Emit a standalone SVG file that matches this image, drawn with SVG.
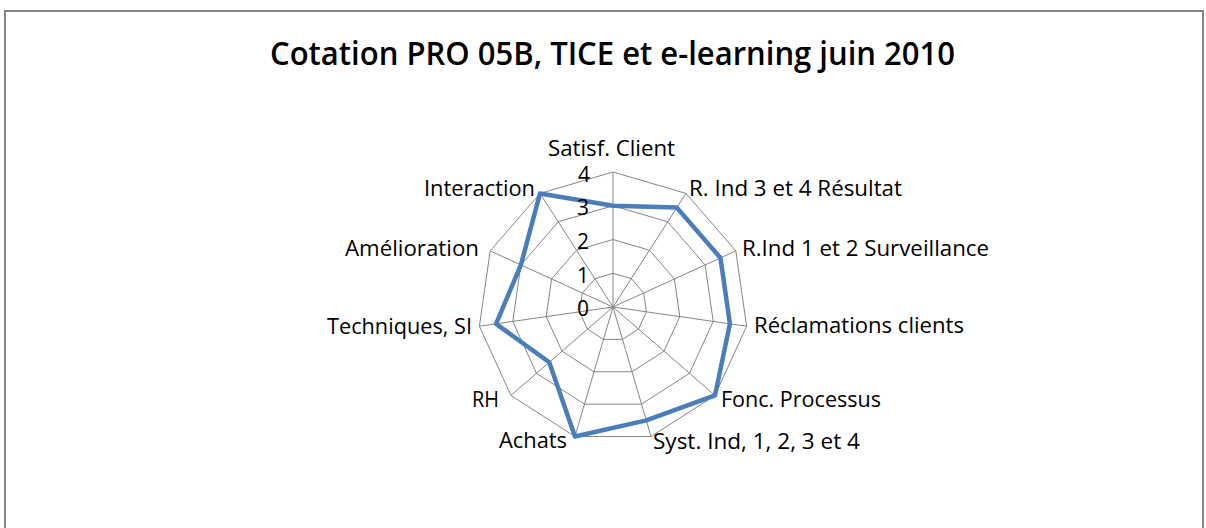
<svg xmlns="http://www.w3.org/2000/svg" width="1206" height="528" viewBox="0 0 1206 528">
<style>
.frame{fill:none;stroke:#868686;stroke-width:2}
.grid{fill:none;stroke:#868686;stroke-width:1}
.data{fill:none;stroke:#4A7EBB;stroke-width:4.5;stroke-linejoin:round}
.title{font-family:"Open Sans","Liberation Sans",sans-serif;font-weight:600;font-size:32px;fill:#000}
.lbl{font-family:"Open Sans","Liberation Sans",sans-serif;font-size:21px;fill:#000}
.tick{font-family:"Open Sans","Liberation Sans",sans-serif;font-size:21px;fill:#000;text-anchor:end}
</style>
<rect width="1206" height="528" fill="#fff"/>
<path class="frame" d="M5,528 V11 H1203 V528"/>
<text class="title" x="270" y="65" textLength="685" lengthAdjust="spacingAndGlyphs">Cotation PRO 05B, TICE et e-learning juin 2010</text>
<g id="grid">
<polygon class="grid" points="613,172 685.98,193.42 735.8,250.92 746.62,326.21 715.02,395.41 651.03,436.53 574.97,436.53 510.98,395.41 479.38,326.21 490.2,250.92 540.02,193.42"/>
<polygon class="grid" points="613,205.75 667.74,221.81 705.1,264.94 713.22,321.41 689.52,373.31 641.52,404.15 584.48,404.15 536.48,373.31 512.78,321.41 520.9,264.94 558.26,221.81"/>
<polygon class="grid" points="613,239.5 649.49,250.21 674.4,278.96 679.81,316.61 664.01,351.21 632.02,371.77 593.98,371.77 561.99,351.21 546.19,316.61 551.6,278.96 576.51,250.21"/>
<polygon class="grid" points="613,273.25 631.25,278.6 643.7,292.98 646.41,311.8 638.51,329.1 622.51,339.38 603.49,339.38 587.49,329.1 579.59,311.8 582.3,292.98 595.25,278.6"/>
<path class="grid" d="M613,307 L613,172 M613,307 L685.98,193.42 M613,307 L735.8,250.92 M613,307 L746.62,326.21 M613,307 L715.02,395.41 M613,307 L651.03,436.53 M613,307 L574.97,436.53 M613,307 L510.98,395.41 M613,307 L479.38,326.21 M613,307 L490.2,250.92 M613,307 L540.02,193.42"/>
</g>
<g id="series">
<polygon class="data" points="613,205.75 676.86,207.62 720.45,257.93 729.92,323.81 715.02,395.41 646.28,420.34 574.97,436.53 549.24,362.26 496.08,323.81 520.9,264.94 540.02,193.42"/>
</g>
<g id="ticks">
<text class="tick" x="590" y="182">4</text>
<text class="tick" x="589" y="215">3</text>
<text class="tick" x="589" y="249">2</text>
<text class="tick" x="589" y="283">1</text>
<text class="tick" x="589" y="316">0</text>
</g>
<g id="labels">
<text id="n-satisf" class="lbl" x="548" y="156" textLength="127" lengthAdjust="spacingAndGlyphs">Satisf. Client</text>
<text id="n-rind34" class="lbl" x="689" y="196" textLength="213" lengthAdjust="spacingAndGlyphs">R. Ind 3 et 4 Résultat</text>
<text id="n-rind12" class="lbl" x="742" y="256" textLength="247" lengthAdjust="spacingAndGlyphs">R.Ind 1 et 2 Surveillance</text>
<text id="n-reclam" class="lbl" x="754" y="333" textLength="210" lengthAdjust="spacingAndGlyphs">Réclamations clients</text>
<text id="n-fonc" class="lbl" x="721" y="407" textLength="160" lengthAdjust="spacingAndGlyphs">Fonc. Processus</text>
<text id="n-syst" class="lbl" x="653" y="449" textLength="207" lengthAdjust="spacingAndGlyphs">Syst. Ind, 1, 2, 3 et 4</text>
<text id="n-achats" class="lbl" x="499" y="448" textLength="68" lengthAdjust="spacingAndGlyphs">Achats</text>
<text id="n-rh" class="lbl" x="472" y="407" textLength="27" lengthAdjust="spacingAndGlyphs">RH</text>
<text id="n-tech" class="lbl" x="327" y="334" textLength="145" lengthAdjust="spacingAndGlyphs">Techniques, SI</text>
<text id="n-amel" class="lbl" x="345" y="256" textLength="134" lengthAdjust="spacingAndGlyphs">Amélioration</text>
<text id="n-inter" class="lbl" x="424" y="196" textLength="111" lengthAdjust="spacingAndGlyphs">Interaction</text>
</g>
</svg>
